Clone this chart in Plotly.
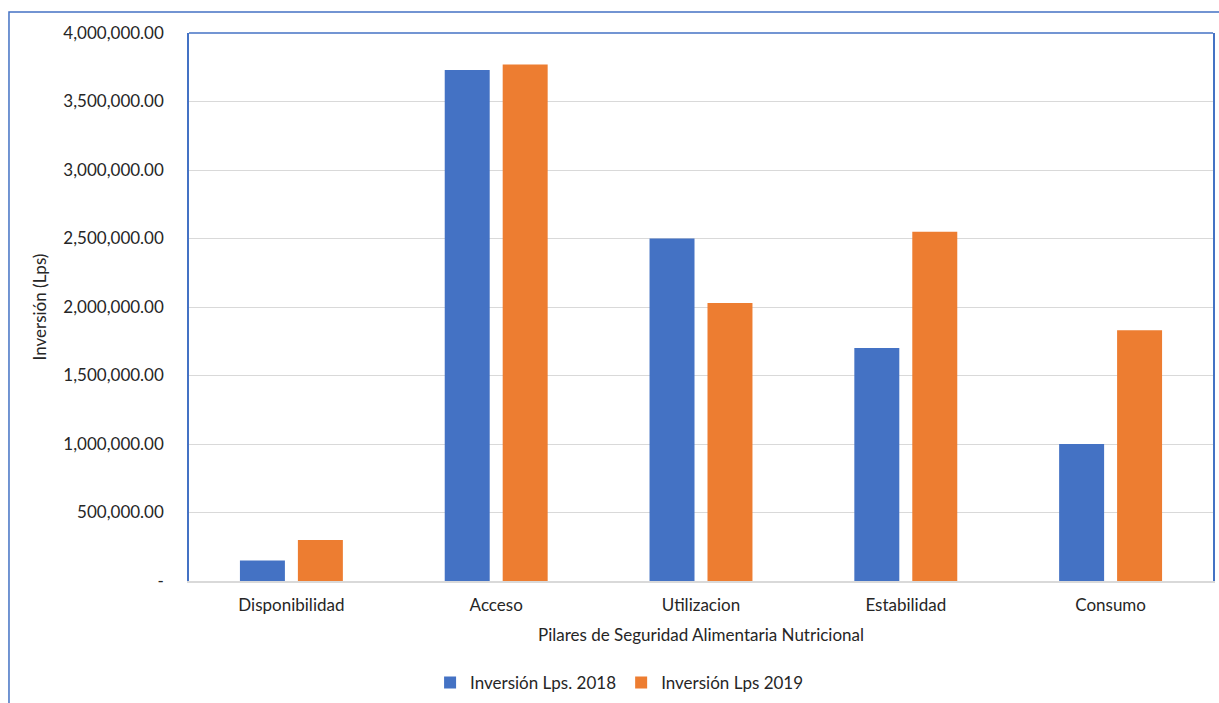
import plotly.graph_objects as go

# Investment by food and nutrition security pillar
pilares = ["Disponibilidad", "Acceso", "Utilizacion", "Estabilidad", "Consumo"]
inversion_2018 = [150000, 3730000, 2500000, 1700000, 1000000]
inversion_2019 = [300000, 3770000, 2030000, 2550000, 1830000]

y_ticks = [0, 500000, 1000000, 1500000, 2000000, 2500000, 3000000, 3500000, 4000000]
y_tick_text = ["-", "500,000.00", "1,000,000.00", "1,500,000.00", "2,000,000.00",
               "2,500,000.00", "3,000,000.00", "3,500,000.00", "4,000,000.00"]

BLUE = "#4472C4"
ORANGE = "#ED7D31"
FRAME = "#4472C4"
GRID = "#D9D9D9"
FONT = "Lato"
SIZE = 17

fig = go.Figure()
fig.add_trace(go.Bar(name="Inversión Lps. 2018", x=pilares, y=inversion_2018,
                     marker=dict(color=BLUE, line=dict(width=0))))
fig.add_trace(go.Bar(name="Inversión Lps 2019", x=pilares, y=inversion_2019,
                     marker=dict(color=ORANGE, line=dict(width=0))))

fig.update_layout(
    width=1219, height=703,
    margin=dict(l=189, r=6, t=33, b=122, autoexpand=False),
    paper_bgcolor="white", plot_bgcolor="white",
    barmode="group", bargap=0.434, bargroupgap=0.224,
    font=dict(family=FONT, size=SIZE, color="#262626"),
    showlegend=True,
    legend=dict(orientation="h", x=0.42, xanchor="center", y=-0.153, yanchor="top",
                font=dict(size=SIZE), itemwidth=30, traceorder="normal"),
    xaxis=dict(
        automargin=False,
        showline=True, linecolor=GRID, linewidth=1.5,
        ticks="", showgrid=False,
        tickfont=dict(size=SIZE), ticklabelstandoff=8,
        title=dict(text="Pilares de Seguridad Alimentaria Nutricional",
                   font=dict(size=SIZE), standoff=15),
    ),
    yaxis=dict(
        automargin=False,
        range=[0, 4000000], tickvals=y_ticks, ticktext=y_tick_text,
        showgrid=True, gridcolor=GRID, gridwidth=1,
        showline=True, linecolor=FRAME, linewidth=1.5, mirror=True,
        zeroline=False, ticks="", ticklabelstandoff=20,
        tickfont=dict(size=SIZE),
        title=dict(text="Inversión (Lps)", font=dict(size=SIZE), standoff=12),
    ),
    shapes=[
        # top edge of the plot area
        dict(type="line", xref="paper", yref="paper", x0=0, x1=1, y0=1, y1=1,
             line=dict(color=FRAME, width=1.5)),
        # outer chart frame
        dict(type="rect", xref="paper", yref="paper",
             x0=-0.1758, x1=1.02, y0=-0.3, y1=1.0383,
             line=dict(color=FRAME, width=1.5), layer="below"),
    ],
)

fig.write_html("out.html")
